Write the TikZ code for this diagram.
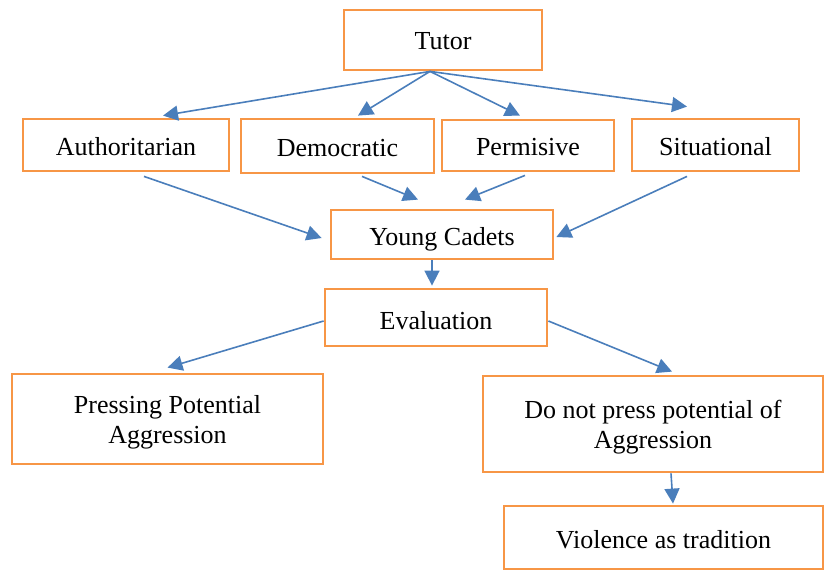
\documentclass[tikz,border=0pt]{standalone}
\usepackage{fontspec}
\setmainfont{Liberation Serif}
\usetikzlibrary{arrows.meta}
\definecolor{boxorange}{HTML}{F79646}
\definecolor{arrowblue}{HTML}{4A7EBB}
\newcommand{\lowr}[2]{\raisebox{-#1}[\height][\depth]{#2}}
\newcommand{\twolines}[2]{\begin{tabular}{@{}c@{}}#1\\#2\end{tabular}}
\tikzset{
  box/.style={draw=boxorange, line width=2.8pt, rectangle, align=center, inner sep=2pt,
    font=\fontsize{26}{30}\selectfont},
  conn/.style={draw=arrowblue, line width=1.6pt, -{Triangle[length=15pt,width=15pt]}}
}
\begin{document}
\begin{tikzpicture}[x=1pt,y=-1pt]
\useasboundingbox (0,0) rectangle (824,571);
\node[box, minimum width=198pt, minimum height=60pt] (tutor) at (443,40) {\lowr{1.5pt}{Tutor}};
\node[box, minimum width=206pt, minimum height=52pt] (auth) at (126,145) {\lowr{2pt}{Authoritarian}};
\node[box, minimum width=193pt, minimum height=54pt] (demo) at (337.5,146) {\lowr{2pt}{Democratic}};
\node[box, minimum width=172pt, minimum height=51pt] (perm) at (528,145.5) {\lowr{2pt}{Permisive}};
\node[box, minimum width=167pt, minimum height=52pt] (situ) at (715.5,145) {\lowr{1.5pt}{Situational}};
\node[box, minimum width=222pt, minimum height=49pt] (yc) at (442,234.5) {\lowr{5pt}{Young Cadets}};
\node[box, minimum width=222pt, minimum height=57pt] (eval) at (436,317.5) {\lowr{3pt}{Evaluation}};
\node[box, minimum width=311pt, minimum height=90pt] (press) at (167.5,419) {\lowr{3pt}{\twolines{Pressing Potential}{Aggression}}};
\node[box, minimum width=340pt, minimum height=96pt] (donot) at (653,424) {\lowr{3pt}{\twolines{Do not press potential of}{Aggression}}};
\node[box, minimum width=319pt, minimum height=63pt] (viol) at (663.5,537.5) {\lowr{2pt}{Violence as tradition}};

\draw[conn] ([xshift=-13pt]tutor.south) -- ([xshift=37pt,yshift=2pt]auth.north);
\draw[conn] ([xshift=-13pt]tutor.south) -- ([xshift=20.5pt,yshift=2pt]demo.north);
\draw[conn] ([xshift=-13pt]tutor.south) -- ([xshift=-8pt,yshift=3pt]perm.north);
\draw[conn] ([xshift=-13pt]tutor.south) -- ([xshift=-28.5pt,yshift=11pt]situ.north);

\draw[conn] ([xshift=18pt,yshift=-4pt]auth.south) -- ([xshift=-8pt,yshift=-3.5pt]yc.west);
\draw[conn] ([xshift=24.5pt,yshift=-2pt]demo.south) -- ([xshift=-24pt,yshift=9pt]yc.north);
\draw[conn] ([xshift=-3pt,yshift=-3pt]perm.south) -- ([xshift=23pt,yshift=9pt]yc.north);
\draw[conn] ([xshift=-28.5pt,yshift=-4pt]situ.south) -- ([xshift=2pt,yshift=-2.5pt]yc.east);

\draw[conn] ([xshift=-10pt]yc.south) -- ([xshift=-4pt,yshift=2pt]eval.north);
\draw[conn] ([yshift=-3.5pt]eval.west) -- ([yshift=5pt]press.north);
\draw[conn] ([yshift=-3.5pt]eval.east) -- ([xshift=19pt,yshift=3pt]donot.north);
\draw[conn] ([xshift=18pt]donot.south) -- ([xshift=9.5pt,yshift=1pt]viol.north);
\end{tikzpicture}
\end{document}
